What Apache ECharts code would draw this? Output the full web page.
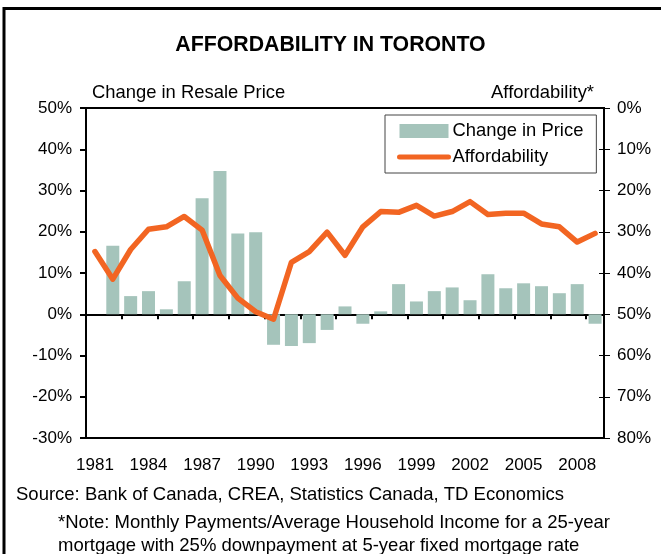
<!DOCTYPE html>
<html>
<head>
<meta charset="utf-8">
<script src="https://cdn.jsdelivr.net/npm/echarts@6/dist/echarts.min.js"></script>
<style>
  html, body { margin: 0; padding: 0; background: #fff; }
  #chart { width: 661px; height: 554px; }
</style>
</head>
<body>
<div id="chart"></div>
<script>
// data
var years = ['1981', '1982', '1983', '1984', '1985', '1986', '1987', '1988', '1989', '1990',
    '1991', '1992', '1993', '1994', '1995', '1996', '1997', '1998', '1999', '2000',
    '2001', '2002', '2003', '2004', '2005', '2006', '2007', '2008', '2009']
var priceChange = [null, 16.6, 4.4, 5.6, 1.2, 8.0, 28.1, 34.7, 19.6, 19.9,
    -7.4, -7.7, -7.0, -3.8, 1.9, -2.3, 0.7, 7.3, 3.1, 5.6,
    6.5, 3.4, 9.7, 6.3, 7.5, 6.8, 5.1, 7.3, -2.3]
var affordability = [34.8, 41.5, 34.3, 29.4, 28.8, 26.3, 29.6, 40.6, 46.1, 49.4,
    51.2, 37.4, 34.8, 30.1, 35.7, 28.8, 25.1, 25.3, 23.6, 26.2,
    25.1, 22.7, 25.8, 25.5, 25.5, 28.1, 28.8, 32.5, 30.4]
var leftTicks = { min: -30, max: 50, step: 10 }
var rightTicks = { min: 0, max: 80, step: 10 }

var font = 'Liberation Sans, Arial, sans-serif'
var barColor = '#a5c4bb'
var lineColor = '#f26522'

var chart = echarts.init(document.getElementById('chart'))

var pct = function (v) { return v + '%' }

var options = {
    animation: false,
    textStyle: { fontFamily: font, color: '#000' },
    grid: {
        left: 86, right: 57, top: 108, height: 330,
        show: true, borderColor: '#000', borderWidth: 2, backgroundColor: 'transparent'
    },
    legend: {
        left: 385, top: 115, orient: 'vertical',
        padding: [7, 13, 7, 12], itemGap: 8,
        itemWidth: 49, itemHeight: 14,
        borderColor: '#444', borderWidth: 1, backgroundColor: '#fff',
        textStyle: { fontSize: 18.4, fontFamily: font, color: '#000', padding: [0, 0, 0, -1] },
        data: [
            { name: 'Change in Price', icon: 'rect' },
            {
                name: 'Affordability',
                itemStyle: { opacity: 0 },
                lineStyle: { width: 5, cap: 'round' }
            }
        ]
    },
    xAxis: [
        {
            // zero line with ticks
            type: 'category', data: years, position: 'bottom',
            axisLine: { onZero: true, lineStyle: { color: '#000', width: 2 } },
            axisTick: { show: true, length: 5, lineStyle: { color: '#000', width: 2 } },
            axisLabel: { show: false },
            splitLine: { show: false }
        },
        {
            // bottom labels
            type: 'category', data: years, position: 'bottom',
            axisLine: { onZero: false, show: false },
            axisTick: { show: false },
            axisLabel: { interval: 2, margin: 19, fontSize: 17, fontFamily: font, color: '#000' },
            splitLine: { show: false }
        }
    ],
    yAxis: [
        {
            type: 'value', position: 'left',
            min: leftTicks.min, max: leftTicks.max, interval: leftTicks.step,
            axisLine: { show: true, lineStyle: { color: '#000', width: 2 } },
            axisTick: { show: true, length: 6, lineStyle: { color: '#000', width: 2 } },
            axisLabel: { formatter: pct, margin: 14, fontSize: 17, fontFamily: font, color: '#000' },
            splitLine: { show: false }
        },
        {
            type: 'value', position: 'right', inverse: true,
            min: rightTicks.min, max: rightTicks.max, interval: rightTicks.step,
            axisLine: { show: true, lineStyle: { color: '#000', width: 2 } },
            axisTick: { show: true, inside: true, length: 5, lineStyle: { color: '#000', width: 1 } },
            axisLabel: { formatter: pct, margin: 13, fontSize: 17, fontFamily: font, color: '#000' },
            splitLine: { show: false }
        },
        {
            // outer half of the crossing ticks on the right
            type: 'value', position: 'right', inverse: true,
            min: rightTicks.min, max: rightTicks.max, interval: rightTicks.step,
            axisLine: { show: false },
            axisTick: { show: true, length: 6, lineStyle: { color: '#000', width: 1 } },
            axisLabel: { show: false },
            splitLine: { show: false }
        }
    ],
    series: [
        {
            name: 'Change in Price', type: 'bar',
            xAxisIndex: 0, yAxisIndex: 0,
            barWidth: 13,
            itemStyle: { color: barColor },
            data: priceChange
        },
        {
            name: 'Affordability', type: 'line',
            xAxisIndex: 0, yAxisIndex: 1,
            symbol: 'none', z: 5,
            lineStyle: { color: lineColor, width: 5.5, cap: 'round', join: 'round' },
            itemStyle: { color: lineColor },
            data: affordability
        }
    ],
    graphic: [
        {
            type: 'rect', silent: true,
            shape: { x: 4, y: 8.5, width: 720, height: 620 },
            style: { fill: 'none', stroke: '#000', lineWidth: 3 }
        },
        {
            type: 'text', left: 'center', top: 35,
            style: { text: 'AFFORDABILITY IN TORONTO', font: 'bold 21.3px ' + font, fill: '#000' }
        },
        {
            type: 'text', x: 92, y: 84,
            style: { text: 'Change in Resale Price', font: '18.4px ' + font, fill: '#000' }
        },
        {
            type: 'text', x: 594, y: 84,
            style: { text: 'Affordability*', font: '18.4px ' + font, fill: '#000', align: 'right' }
        },
        {
            type: 'text', x: 16, y: 485,
            style: { text: 'Source: Bank of Canada, CREA, Statistics Canada, TD Economics', font: '18.5px ' + font, fill: '#000' }
        },
        {
            type: 'text', x: 58, y: 513,
            style: { text: '*Note: Monthly Payments/Average Household Income for a 25-year', font: '18.5px ' + font, fill: '#000' }
        },
        {
            type: 'text', x: 58, y: 536,
            style: { text: 'mortgage with 25% downpayment at 5-year fixed mortgage rate', font: '18.5px ' + font, fill: '#000' }
        }
    ]
}

chart.setOption(options)
window.addEventListener('resize', function () { chart.resize() })
</script>
</body>
</html>
